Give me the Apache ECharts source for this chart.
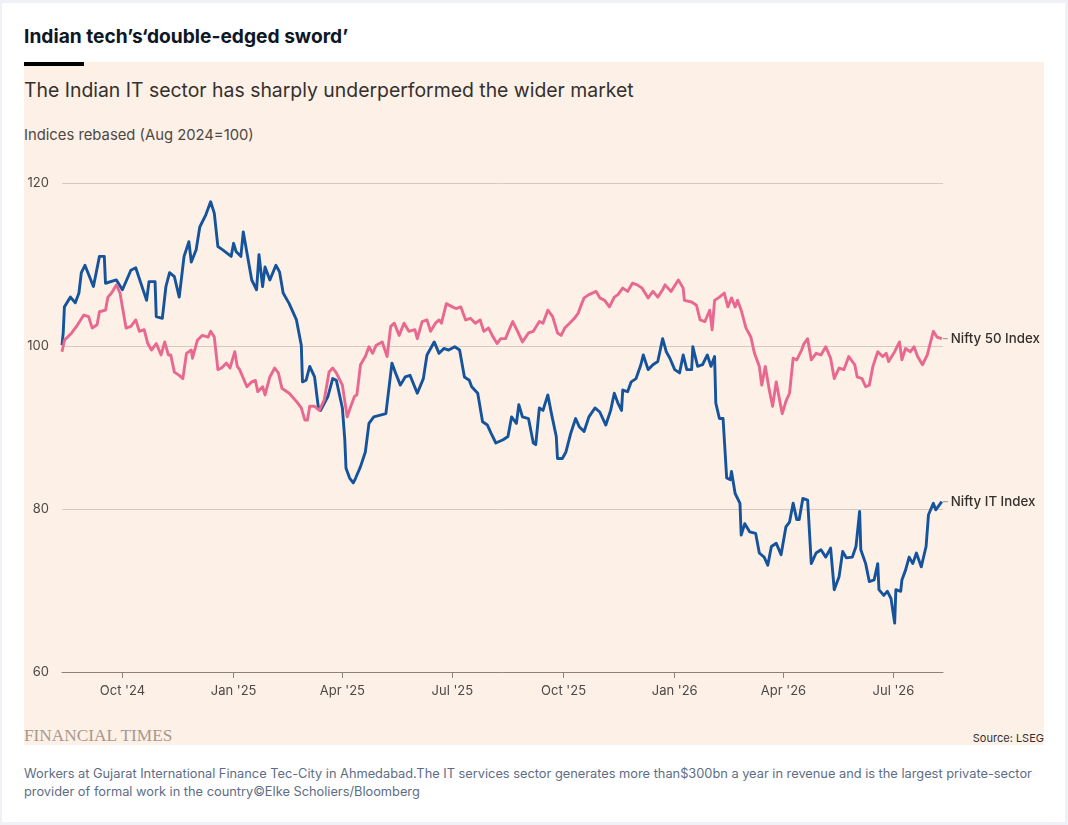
<!DOCTYPE html>
<html>
<head>
<meta charset="utf-8">
<script src="https://cdn.jsdelivr.net/npm/echarts@6/dist/echarts.min.js"></script>
<style>
  html, body { margin:0; padding:0; width:1068px; height:825px; overflow:hidden; background:#EEF2F6; }
  .abs { position:absolute; white-space:nowrap; }
  #card { left:2px; top:3px; width:1063px; height:819px; background:#FFFFFF; }
  #panel { left:24px; top:62px; width:1020px; height:683px; background:#FDF0E6; }
  #bar { left:24px; top:62px; width:60px; height:4px; background:#000; }
  #title { left:24px; top:26px; font:700 19.2px/20px Inter, "Open Sans", sans-serif; color:#0D1726; letter-spacing:0; }
  #subtitle { left:24px; top:78px; font:400 19.4px/24px Inter, "Open Sans", sans-serif; color:#33302E; }
  #unit { left:24px; top:126px; font:400 14.8px/18px Inter, "Open Sans", sans-serif; color:#4D4845; }
  #ft { left:24px; top:727px; font:400 17.3px/18px "Liberation Serif", "DejaVu Serif", serif; color:#A69A8E; letter-spacing:0; }
  #source { right:24px; top:732px; font:400 11px/12px Inter, "Open Sans", sans-serif; color:#33302E; }
  #caption { left:24px; top:765px; font:400 12.8px/18px Inter, "Open Sans", sans-serif; color:#5D6D86; }
  #chart { position:absolute; left:0; top:0; width:1068px; height:825px; }
</style>
</head>
<body>
<div id="card" class="abs"></div>
<div id="panel" class="abs"></div>
<div id="bar" class="abs"></div>
<div id="title" class="abs">Indian tech’s‘double-edged sword’</div>
<div id="subtitle" class="abs">The Indian IT sector has sharply underperformed the wider market</div>
<div id="unit" class="abs">Indices rebased (Aug 2024=100)</div>
<div id="ft" class="abs">FINANCIAL TIMES</div>
<div id="source" class="abs">Source: LSEG</div>
<div id="caption" class="abs">Workers at Gujarat International Finance Tec-City in Ahmedabad.The IT services sector generates more than$300bn a year in revenue and is the largest private-sector<br>provider of formal work in the country©Elke Scholiers/Bloomberg</div>
<div id="chart"></div>
<script>
const itDates = ['2024-08-12','2024-08-13','2024-08-14','2024-08-19','2024-08-23','2024-08-26','2024-08-28','2024-08-31','2024-09-07','2024-09-12','2024-09-16','2024-09-17','2024-09-26','2024-10-01','2024-10-08','2024-10-12','2024-10-21','2024-10-23','2024-10-28','2024-10-29','2024-11-03','2024-11-06','2024-11-09','2024-11-13','2024-11-17','2024-11-21','2024-11-25','2024-11-27','2024-12-01','2024-12-04','2024-12-09','2024-12-13','2024-12-16','2024-12-19','2024-12-23','2024-12-30','2025-01-01','2025-01-03','2025-01-07','2025-01-09','2025-01-16','2025-01-20','2025-01-22','2025-01-25','2025-01-27','2025-01-31','2025-02-05','2025-02-08','2025-02-11','2025-02-16','2025-02-22','2025-02-26','2025-02-27','2025-03-02','2025-03-05','2025-03-09','2025-03-12','2025-03-14','2025-03-20','2025-03-24','2025-03-27','2025-04-01','2025-04-03','2025-04-04','2025-04-07','2025-04-10','2025-04-12','2025-04-16','2025-04-20','2025-04-23','2025-04-27','2025-05-07','2025-05-10','2025-05-12','2025-05-15','2025-05-19','2025-05-23','2025-05-27','2025-06-02','2025-06-07','2025-06-10','2025-06-16','2025-06-20','2025-06-24','2025-06-28','2025-07-03','2025-07-07','2025-07-11','2025-07-15','2025-07-17','2025-07-22','2025-07-26','2025-07-30','2025-08-02','2025-08-06','2025-08-12','2025-08-16','2025-08-19','2025-08-23','2025-08-25','2025-08-28','2025-09-02','2025-09-06','2025-09-08','2025-09-11','2025-09-14','2025-09-18','2025-09-21','2025-09-25','2025-09-26','2025-09-30','2025-10-03','2025-10-07','2025-10-11','2025-10-14','2025-10-18','2025-10-22','2025-10-27','2025-10-31','2025-11-05','2025-11-09','2025-11-12','2025-11-15','2025-11-18','2025-11-19','2025-11-23','2025-11-26','2025-11-30','2025-12-04','2025-12-06','2025-12-10','2025-12-14','2025-12-18','2025-12-22','2025-12-25','2025-12-28','2026-01-01','2026-01-05','2026-01-08','2026-01-11','2026-01-15','2026-01-16','2026-01-20','2026-01-24','2026-01-28','2026-01-31','2026-02-03','2026-02-04','2026-02-07','2026-02-10','2026-02-13','2026-02-16','2026-02-17','2026-02-20','2026-02-24','2026-02-25','2026-02-28','2026-03-04','2026-03-09','2026-03-12','2026-03-16','2026-03-19','2026-03-22','2026-03-26','2026-03-30','2026-04-03','2026-04-06','2026-04-09','2026-04-12','2026-04-14','2026-04-17','2026-04-21','2026-04-24','2026-04-28','2026-05-02','2026-05-06','2026-05-10','2026-05-13','2026-05-17','2026-05-20','2026-05-23','2026-05-28','2026-05-31','2026-06-03','2026-06-04','2026-06-08','2026-06-11','2026-06-15','2026-06-18','2026-06-19','2026-06-23','2026-06-26','2026-06-29','2026-07-02','2026-07-03','2026-07-07','2026-07-08','2026-07-11','2026-07-14','2026-07-17','2026-07-20','2026-07-24','2026-07-28','2026-07-30','2026-08-03','2026-08-05','2026-08-10'];
const itValues = [100.1,101.6,104.8,106.0,105.3,106.5,109.0,109.9,107.3,111.0,111.0,107.7,108.1,106.9,109.3,109.6,105.6,107.9,107.9,103.6,103.4,107.3,109.0,108.5,106.0,111.0,112.8,110.3,111.8,114.6,116.1,117.7,116.3,112.2,111.8,111.0,112.6,111.6,111.0,114.0,108.1,106.9,111.2,107.3,109.7,108.1,109.9,109.1,106.5,105.2,103.2,100.1,95.6,95.8,97.5,96.2,92.6,92.1,93.8,96.0,95.8,92.4,88.5,85.0,83.8,83.2,83.8,85.2,87.0,90.5,91.3,91.7,95.4,97.9,96.7,95.2,96.2,96.4,94.2,96.0,98.9,100.5,99.1,99.7,99.5,99.9,99.5,96.2,95.8,95.0,94.2,90.7,90.3,89.3,88.1,88.5,88.9,91.3,90.5,92.8,91.3,91.1,88.1,87.9,92.4,92.1,94.0,91.7,88.9,86.2,86.2,87.0,89.3,91.1,90.1,89.5,91.3,92.4,91.9,90.3,92.1,94.2,93.0,92.1,94.6,94.4,95.6,96.0,97.7,98.9,97.1,97.7,98.1,100.9,99.3,98.5,97.1,96.7,98.9,97.1,97.1,99.9,97.5,97.7,98.9,97.5,98.7,93.0,91.1,91.1,83.8,83.6,84.6,81.9,80.7,76.8,78.2,77.2,77.0,74.6,74.1,73.1,75.4,75.8,74.4,77.8,78.4,80.7,78.7,78.7,81.3,81.1,73.3,74.6,75.0,74.1,75.2,70.1,71.7,74.8,74.0,74.1,75.4,79.7,75.0,73.3,71.1,71.3,73.3,70.1,69.4,69.9,69.0,66.0,70.1,69.9,71.3,72.5,74.1,73.3,74.6,72.9,75.4,79.3,80.7,79.9,80.9];

const n50Dates = ['2024-08-12','2024-08-14','2024-08-20','2024-08-24','2024-08-30','2024-09-03','2024-09-06','2024-09-10','2024-09-12','2024-09-17','2024-09-19','2024-09-22','2024-09-26','2024-09-29','2024-10-01','2024-10-04','2024-10-08','2024-10-12','2024-10-15','2024-10-19','2024-10-22','2024-10-25','2024-10-29','2024-11-02','2024-11-05','2024-11-08','2024-11-10','2024-11-13','2024-11-17','2024-11-20','2024-11-23','2024-11-27','2024-11-28','2024-12-02','2024-12-06','2024-12-11','2024-12-13','2024-12-16','2024-12-19','2024-12-22','2024-12-26','2024-12-29','2025-01-02','2025-01-04','2025-01-06','2025-01-12','2025-01-16','2025-01-19','2025-01-21','2025-01-25','2025-01-27','2025-01-31','2025-02-04','2025-02-07','2025-02-10','2025-02-12','2025-02-16','2025-02-22','2025-02-26','2025-03-01','2025-03-03','2025-03-05','2025-03-09','2025-03-13','2025-03-17','2025-03-21','2025-03-24','2025-03-27','2025-04-01','2025-04-05','2025-04-08','2025-04-11','2025-04-13','2025-04-16','2025-04-20','2025-04-23','2025-04-26','2025-04-29','2025-05-04','2025-05-08','2025-05-11','2025-05-14','2025-05-18','2025-05-22','2025-05-26','2025-05-31','2025-06-02','2025-06-06','2025-06-10','2025-06-13','2025-06-17','2025-06-20','2025-06-22','2025-06-26','2025-07-01','2025-07-04','2025-07-08','2025-07-12','2025-07-16','2025-07-20','2025-07-24','2025-07-27','2025-07-31','2025-08-03','2025-08-07','2025-08-10','2025-08-14','2025-08-17','2025-08-20','2025-08-24','2025-08-28','2025-09-02','2025-09-06','2025-09-11','2025-09-14','2025-09-18','2025-09-22','2025-09-26','2025-09-29','2025-10-02','2025-10-06','2025-10-10','2025-10-13','2025-10-15','2025-10-18','2025-10-22','2025-10-28','2025-10-31','2025-11-04','2025-11-08','2025-11-12','2025-11-15','2025-11-19','2025-11-23','2025-11-27','2025-12-01','2025-12-05','2025-12-10','2025-12-14','2025-12-18','2025-12-22','2025-12-24','2025-12-29','2026-01-04','2026-01-08','2026-01-09','2026-01-15','2026-01-19','2026-01-22','2026-01-26','2026-01-30','2026-02-01','2026-02-03','2026-02-07','2026-02-11','2026-02-14','2026-02-17','2026-02-20','2026-02-22','2026-02-25','2026-03-01','2026-03-05','2026-03-08','2026-03-12','2026-03-14','2026-03-17','2026-03-20','2026-03-23','2026-03-26','2026-03-29','2026-03-31','2026-04-03','2026-04-06','2026-04-09','2026-04-12','2026-04-16','2026-04-18','2026-04-21','2026-04-24','2026-04-28','2026-05-02','2026-05-06','2026-05-10','2026-05-13','2026-05-17','2026-05-21','2026-05-25','2026-05-30','2026-06-01','2026-06-05','2026-06-08','2026-06-11','2026-06-14','2026-06-18','2026-06-22','2026-06-25','2026-06-27','2026-07-02','2026-07-06','2026-07-08','2026-07-11','2026-07-15','2026-07-18','2026-07-21','2026-07-25','2026-07-29','2026-08-03','2026-08-06','2026-08-10'];
const n50Values = [99.3,100.7,101.6,102.4,103.8,103.6,102.2,102.6,104.2,104.4,106.0,106.5,107.5,106.5,104.8,102.2,102.4,103.2,101.8,102.0,100.3,99.5,100.3,98.9,100.5,98.9,98.9,96.8,96.4,96.0,99.1,99.5,98.5,100.7,101.3,101.1,101.8,101.1,97.1,97.3,97.9,97.3,99.3,97.5,97.1,95.0,95.6,95.8,94.4,95.0,94.0,96.2,97.3,96.7,94.8,94.6,94.2,93.2,92.4,90.9,90.9,92.6,92.6,92.1,93.4,96.8,97.3,96.7,95.2,91.3,92.6,93.8,94.0,97.7,98.7,99.9,99.1,100.1,100.5,98.7,102.4,102.8,101.3,102.8,101.8,102.0,100.9,103.0,103.2,101.8,102.8,103.2,102.8,105.2,104.8,104.6,104.8,103.2,103.4,102.8,103.2,101.8,102.2,101.3,100.3,100.9,100.9,102.0,103.0,101.8,100.5,101.6,101.8,103.0,102.8,104.4,103.6,101.6,101.3,102.2,102.8,103.4,104.0,104.8,105.9,106.3,106.7,105.9,105.6,104.8,106.0,106.3,107.1,106.7,107.7,107.5,107.1,105.9,106.7,106.0,106.9,107.5,106.7,108.1,107.1,105.6,105.4,105.0,103.2,103.0,104.4,102.0,105.6,106.0,106.5,104.8,105.9,104.8,105.6,104.4,102.2,101.1,99.1,97.5,95.2,97.5,94.8,92.6,95.6,93.2,91.7,93.2,94.2,98.5,98.3,99.5,100.3,100.9,98.3,99.1,98.9,99.9,98.5,96.0,97.3,97.1,98.7,97.7,96.2,96.0,95.0,95.2,97.5,99.3,98.7,99.1,98.1,99.3,100.5,98.3,99.7,99.3,99.9,98.7,97.7,98.9,101.8,101.1,100.9];

const tickDates = ['2024-10-01','2025-01-01','2025-04-01','2025-07-01','2025-10-01','2026-01-01','2026-04-01','2026-07-01'];
const tickLabels = ["Oct '24","Jan '25","Apr '25","Jul '25","Oct '25","Jan '26","Apr '26","Jul '26"];
const yTicks = [60, 80, 100, 120];
const seriesNames = ['Nifty IT Index', 'Nifty 50 Index'];
const xStart = '2024-08-12', xEnd = '2026-08-11';

const toTs = s => echarts.time.parse(s).getTime();
const tickTs = tickDates.map(toTs);

const chart = echarts.init(document.getElementById('chart'), null, { renderer: 'canvas' });
const labelFont = 'Inter, "Open Sans", sans-serif';

function endLabel(name) {
  return {
    show: true,
    distance: 1,
    formatter: '{l|}{t|' + name + '}',
    rich: {
      l: { width: 5, height: 1, backgroundColor: '#9C918A', verticalAlign: 'middle' },
      t: { fontFamily: labelFont, fontSize: 13.3, fontWeight: 500, color: '#33302E', padding: [0, 0, 0, 3], verticalAlign: 'middle' }
    }
  };
}

chart.setOption({
  backgroundColor: 'transparent',
  animation: false,
  grid: { left: 62, right: 125, top: 183, bottom: 153 },
  xAxis: {
    type: 'value',
    min: toTs(xStart),
    max: toTs(xEnd),
    axisLine: { show: true, onZero: false, lineStyle: { color: '#8E837B', width: 1 } },
    axisTick: { show: true, length: 6, lineStyle: { color: '#8E837B' }, customValues: tickTs },
    axisLabel: {
      customValues: tickTs,
      margin: 13,
      fontFamily: labelFont, fontSize: 13, color: '#4D4845',
      formatter: v => { const i = tickTs.indexOf(v); return i >= 0 ? tickLabels[i] : ''; }
    },
    splitLine: { show: false }
  },
  yAxis: {
    type: 'value',
    min: yTicks[0], max: yTicks[yTicks.length - 1], interval: 20,
    axisLine: { show: false },
    axisTick: { show: false },
    axisLabel: { margin: 13, fontFamily: labelFont, fontSize: 13, color: '#4D4845' },
    splitLine: { lineStyle: { color: '#D6C9BE', width: 1 } }
  },
  series: [
    {
      name: seriesNames[0], type: 'line', showSymbol: false, symbol: 'none',
      data: itDates.map((d, i) => [toTs(d), itValues[i]]),
      lineStyle: { color: '#15549C', width: 2.9, join: 'round' },
      itemStyle: { color: '#15549C' },
      endLabel: endLabel(seriesNames[0]),
      z: 2
    },
    {
      name: seriesNames[1], type: 'line', showSymbol: false, symbol: 'none',
      data: n50Dates.map((d, i) => [toTs(d), n50Values[i]]),
      lineStyle: { color: '#E8688F', width: 2.9, join: 'round' },
      itemStyle: { color: '#E8688F' },
      endLabel: endLabel(seriesNames[1]),
      z: 3
    }
  ]
});
</script>
</body>
</html>
